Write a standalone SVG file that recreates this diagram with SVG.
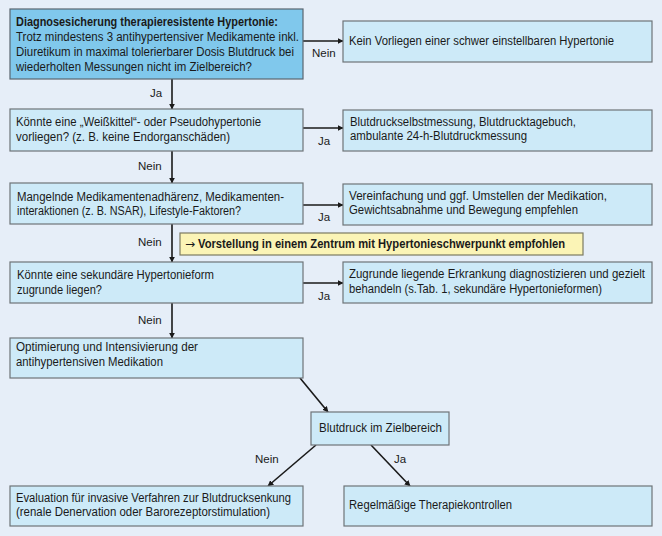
<svg xmlns="http://www.w3.org/2000/svg" width="662" height="536" viewBox="0 0 662 536">
<style>
text{font-family:"Liberation Sans",Arial,sans-serif;font-size:12px;fill:#1a1a1a}
.b{font-weight:bold}
.box{fill:#cdeaf8;stroke:#6e7478;stroke-width:1.2}
.main{fill:#80c8ec;stroke:#5a6670;stroke-width:1.2}
.note{fill:#fbf4b6;stroke:#7c7a62;stroke-width:1.2}
.c line{stroke:#1a1a1a;stroke-width:1.6}
.lbl{font-size:11.5px}
.arr{font-family:"DejaVu Sans",sans-serif;font-weight:normal}
</style>
<defs>
<marker id="ah" viewBox="0 0 10 10" refX="9" refY="5" markerWidth="6" markerHeight="6" orient="auto" markerUnits="userSpaceOnUse">
<path d="M0,0 L10,5 L0,10 z" fill="#1a1a1a"/>
</marker>
</defs>
<rect width="662" height="536" fill="#e6eef8"/>

<g class="c" id="connectors">
<line x1="303" y1="41" x2="343" y2="41" marker-end="url(#ah)"/>
<line x1="172" y1="79" x2="172" y2="109" marker-end="url(#ah)"/>
<line x1="303" y1="128" x2="343" y2="128" marker-end="url(#ah)"/>
<line x1="172" y1="151" x2="172" y2="183" marker-end="url(#ah)"/>
<line x1="303" y1="205" x2="343" y2="205" marker-end="url(#ah)"/>
<line x1="172" y1="224" x2="172" y2="262" marker-end="url(#ah)"/>
<line x1="303" y1="283" x2="343" y2="283" marker-end="url(#ah)"/>
<line x1="172" y1="303" x2="172" y2="338" marker-end="url(#ah)"/>
<line x1="300" y1="378" x2="328" y2="412" marker-end="url(#ah)"/>
<line x1="316" y1="445" x2="268" y2="486" marker-end="url(#ah)"/>
<line x1="371" y1="445" x2="410" y2="486" marker-end="url(#ah)"/>
<text class="lbl" x="312" y="57">Nein</text>
<text class="lbl" x="150" y="97">Ja</text>
<text class="lbl" x="318" y="145">Ja</text>
<text class="lbl" x="138" y="170">Nein</text>
<text class="lbl" x="318" y="221">Ja</text>
<text class="lbl" x="138" y="246">Nein</text>
<text class="lbl" x="318" y="300">Ja</text>
<text class="lbl" x="138" y="324">Nein</text>
<text class="lbl" x="255" y="463">Nein</text>
<text class="lbl" x="394" y="463">Ja</text>
</g>

<g id="n1">
<rect class="main" x="10" y="9" width="293" height="70"/>
<text class="b" x="16" y="26" textLength="262" lengthAdjust="spacingAndGlyphs">Diagnosesicherung therapieresistente Hypertonie:</text>
<text x="16" y="41" textLength="283" lengthAdjust="spacingAndGlyphs">Trotz mindestens 3 antihypertensiver Medikamente inkl.</text>
<text x="16" y="56" textLength="278" lengthAdjust="spacingAndGlyphs">Diuretikum in maximal tolerierbarer Dosis Blutdruck bei</text>
<text x="16" y="71" textLength="236" lengthAdjust="spacingAndGlyphs">wiederholten Messungen nicht im Zielbereich?</text>
</g>
<g id="n1r">
<rect class="box" x="343" y="21" width="309" height="41"/>
<text x="349" y="45" textLength="265" lengthAdjust="spacingAndGlyphs">Kein Vorliegen einer schwer einstellbaren Hypertonie</text>
</g>

<g id="n2">
<rect class="box" x="10" y="109" width="293" height="42"/>
<text x="16" y="126" textLength="245" lengthAdjust="spacingAndGlyphs">Könnte eine „Weißkittel“- oder Pseudohypertonie</text>
<text x="16" y="141" textLength="214" lengthAdjust="spacingAndGlyphs">vorliegen?  (z. B. keine Endorganschäden)</text>
</g>
<g id="n2r">
<rect class="box" x="343" y="110" width="309" height="41"/>
<text x="350" y="126" textLength="226" lengthAdjust="spacingAndGlyphs">Blutdruckselbstmessung, Blutdrucktagebuch,</text>
<text x="350" y="140" textLength="177" lengthAdjust="spacingAndGlyphs">ambulante 24-h-Blutdruckmessung</text>
</g>

<g id="n3">
<rect class="box" x="10" y="183" width="293" height="41"/>
<text x="17" y="201" textLength="267" lengthAdjust="spacingAndGlyphs">Mangelnde Medikamentenadhärenz, Medikamenten-</text>
<text x="17" y="215" textLength="224" lengthAdjust="spacingAndGlyphs">interaktionen (z. B. NSAR), Lifestyle-Faktoren?</text>
</g>
<g id="n3r">
<rect class="box" x="343" y="184" width="309" height="41"/>
<text x="349" y="200" textLength="258" lengthAdjust="spacingAndGlyphs">Vereinfachung und ggf. Umstellen der Medikation,</text>
<text x="349" y="214" textLength="229" lengthAdjust="spacingAndGlyphs">Gewichtsabnahme und Bewegung empfehlen</text>
</g>

<g id="note">
<rect class="note" x="180" y="233" width="403" height="22"/>
<text class="b" x="185" y="248"><tspan class="arr">→</tspan><tspan dx="3" textLength="367" lengthAdjust="spacingAndGlyphs">Vorstellung in einem Zentrum mit Hypertonieschwerpunkt empfohlen</tspan></text>
</g>

<g id="n4">
<rect class="box" x="10" y="262" width="293" height="41"/>
<text x="17" y="279" textLength="197" lengthAdjust="spacingAndGlyphs">Könnte eine sekundäre Hypertonieform</text>
<text x="17" y="294" textLength="85" lengthAdjust="spacingAndGlyphs">zugrunde liegen?</text>
</g>
<g id="n4r">
<rect class="box" x="343" y="262" width="309" height="41"/>
<text x="349" y="278" textLength="296" lengthAdjust="spacingAndGlyphs">Zugrunde liegende Erkrankung diagnostizieren und gezielt</text>
<text x="349" y="293" textLength="253" lengthAdjust="spacingAndGlyphs">behandeln (s.Tab. 1, sekundäre Hypertonieformen)</text>
</g>

<g id="n5">
<rect class="box" x="10" y="338" width="293" height="40"/>
<text x="16" y="351" textLength="182" lengthAdjust="spacingAndGlyphs">Optimierung und Intensivierung der</text>
<text x="16" y="366" textLength="147" lengthAdjust="spacingAndGlyphs">antihypertensiven Medikation</text>
</g>

<g id="n6">
<rect class="box" x="311" y="412" width="138" height="33"/>
<text x="319" y="432" textLength="123" lengthAdjust="spacingAndGlyphs">Blutdruck im Zielbereich</text>
</g>

<g id="n7">
<rect class="box" x="10" y="486" width="293" height="40"/>
<text x="16" y="502" textLength="275" lengthAdjust="spacingAndGlyphs">Evaluation für invasive Verfahren zur Blutdrucksenkung</text>
<text x="16" y="516" textLength="254" lengthAdjust="spacingAndGlyphs">(renale Denervation oder Barorezeptorstimulation)</text>
</g>
<g id="n8">
<rect class="box" x="344" y="486" width="308" height="40"/>
<text x="349" y="509" textLength="163" lengthAdjust="spacingAndGlyphs">Regelmäßige Therapiekontrollen</text>
</g>
</svg>
